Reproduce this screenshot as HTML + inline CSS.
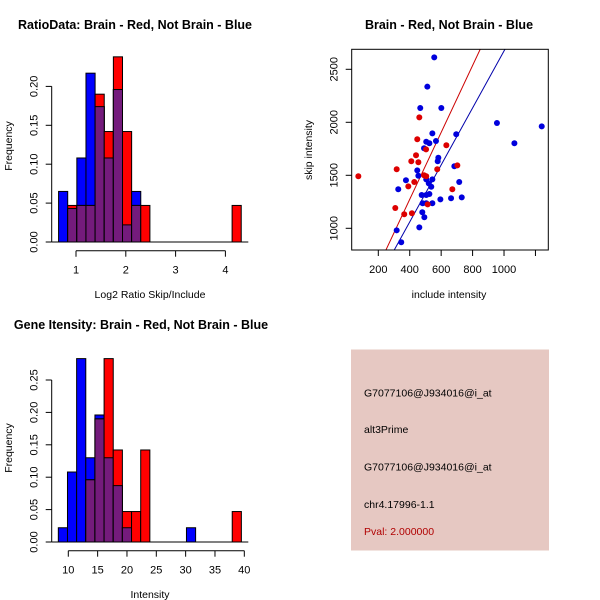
<!DOCTYPE html>
<html><head><meta charset="utf-8"><style>
html,body{margin:0;padding:0;background:#fff;}
svg{display:block;font-family:"Liberation Sans",sans-serif;}
</style></head><body>
<svg id="root" width="600" height="600" viewBox="0 0 600 600" xmlns="http://www.w3.org/2000/svg">
<rect x="0" y="0" width="600" height="600" fill="#fff"/>
<g id="p1">
<text x="135" y="29" text-anchor="middle" font-weight="bold" font-size="12.5">RatioData: Brain - Red, Not Brain - Blue</text>
<text x="150" y="298" text-anchor="middle" font-size="10.5">Log2 Ratio Skip/Include</text>
<text transform="translate(12,146) rotate(-90)" text-anchor="middle" font-size="10.5">Frequency</text>
</g>
<g id="p2">
<text x="449" y="29" text-anchor="middle" font-weight="bold" font-size="12.5">Brain - Red, Not Brain - Blue</text>
<text x="449" y="298" text-anchor="middle" font-size="10.5">include intensity</text>
<text transform="translate(312,150) rotate(-90)" text-anchor="middle" font-size="10.5">skip intensity</text>
</g>
<g id="p3">
<text x="141" y="329" text-anchor="middle" font-weight="bold" font-size="12.5">Gene Itensity: Brain - Red, Not Brain - Blue</text>
<text x="150" y="598" text-anchor="middle" font-size="10.5">Intensity</text>
<text transform="translate(12,448) rotate(-90)" text-anchor="middle" font-size="10.5">Frequency</text>
</g>
<g>
<rect x="351" y="349.5" width="198" height="201" fill="#e6c8c2"/>
<text x="364" y="396.5" font-size="10.5">G7077106@J934016@i_at</text>
<text x="364" y="433" font-size="10.5">alt3Prime</text>
<text x="364" y="470.5" font-size="10.5">G7077106@J934016@i_at</text>
<text x="364" y="508" font-size="10.5">chr4.17996-1.1</text>
<text x="364" y="535" font-size="10.5" fill="#b00000">Pval: 2.000000</text>
</g>
</svg>
<script>
// Panel 1 data
const ratioBinStart = 0.65;
const ratioBinWidth = 0.1834;
const ratioBlue = [0.065,0.043,0.108,0.217,0.174,0.108,0.196,0.022,0.065,0,0,0,0,0,0,0,0,0,0,0];
const ratioRed  = [0,0.047,0.047,0.047,0.19,0.142,0.238,0.142,0.047,0.047,0,0,0,0,0,0,0,0,0,0.047];
const ratioXTicks = [1,2,3,4];
const ratioYTicks = [0,0.05,0.10,0.15,0.20];
const ratioYLabels = ["0.00","0.05","0.10","0.15","0.20"];
// Panel 3 data
const geneBinStart = 8.3;
const geneBinWidth = 1.56;
const geneBlue = [0.022,0.108,0.283,0.13,0.196,0.13,0.087,0.022,0,0,0,0,0,0,0.022,0,0,0,0,0];
const geneRed  = [0,0,0,0.096,0.19,0.283,0.142,0.047,0.047,0.142,0,0,0,0,0,0,0,0,0,0.047];
const geneXTicks = [10,15,20,25,30,35,40];
const geneYTicks = [0,0.05,0.10,0.15,0.20,0.25];
const geneYLabels = ["0.00","0.05","0.10","0.15","0.20","0.25"];
// Panel 2 data
const blueInclude = [467,601,544,696,505,525,567,491,582,578,684,448,455,505,544,521,376,327,537,715,731,663,595,476,505,525,544,482,505,480,493,461,317,346,955,512,556,1066,1240];
const blueSkip    = [2135,2135,1896,1887,1817,1802,1824,1755,1666,1632,1585,1547,1496,1462,1462,1424,1453,1368,1392,1437,1292,1283,1273,1314,1314,1324,1236,1236,1236,1151,1104,1009,981,868,1993,2336,2613,1802,1962];
const redInclude = [73,461,448,633,504,440,410,455,317,575,703,491,505,429,391,671,308,365,414,514];
const redSkip    = [1491,2047,1840,1783,1745,1689,1632,1623,1557,1557,1594,1500,1491,1437,1396,1368,1191,1132,1142,1226];
const redFit = [11,3.156];
const blueFit = [-15,2.688];
const scatterXTicks = [200,400,600,800,1000,1200];
const scatterXLabels = ["200","400","600","800","1000",""];
const scatterYTicks = [1000,1500,2000,2500];

const NS="http://www.w3.org/2000/svg";
function mk(parent,tag,attrs){const e=document.createElementNS(NS,tag);for(const k in attrs)e.setAttribute(k,attrs[k]);parent.appendChild(e);return e;}

function drawHist(g,prefix,bs,bw,blue,red,xTicks,yTicks,yLabels,xScale,yScale,xAxisY,yAxisX,baseL,baseR){
  const y0=yScale(0);
  for(let i=0;i<blue.length;i++){
    const x1=xScale(bs+i*bw),x2=xScale(bs+(i+1)*bw);
    const b=blue[i],r=red[i];
    if(b>0){const e=mk(g,'rect',{x:x1,y:yScale(b),width:x2-x1,height:y0-yScale(b),fill:'#0000ff',stroke:'#000','stroke-width':1});
      
      }
    if(r>0){const e=mk(g,'rect',{x:x1,y:yScale(r),width:x2-x1,height:y0-yScale(r),fill:'#ff0000',stroke:'#000','stroke-width':1});
      
      }
    const m=Math.min(b,r);
    if(m>0){const e=mk(g,'rect',{x:x1,y:yScale(m),width:x2-x1,height:y0-yScale(m),fill:'#741b7c',stroke:'#000','stroke-width':1});
      
      }
  }
  const bl=mk(g,'line',{x1:baseL,x2:baseR,y1:y0,y2:y0,stroke:'#000','stroke-width':1});
  
  
  const xa=mk(g,'line',{x1:xScale(xTicks[0]),x2:xScale(xTicks[xTicks.length-1]),y1:xAxisY,y2:xAxisY,stroke:'#000'});
  
  
  xTicks.forEach(t=>{mk(g,'line',{x1:xScale(t),x2:xScale(t),y1:xAxisY,y2:xAxisY+6,stroke:'#000'});
    const tx=mk(g,'text',{x:xScale(t),y:xAxisY+23,'text-anchor':'middle','font-size':'11'});tx.textContent=t;
    
    });
  const ya=mk(g,'line',{x1:yAxisX,x2:yAxisX,y1:yScale(yTicks[0]),y2:yScale(yTicks[yTicks.length-1]),stroke:'#000'});
  
  
  yTicks.forEach((t,i)=>{mk(g,'line',{x1:yAxisX-6,x2:yAxisX,y1:yScale(t),y2:yScale(t),stroke:'#000'});
    const tx=mk(g,'text',{transform:'translate('+(yAxisX-14)+','+yScale(t)+') rotate(-90)','text-anchor':'middle','font-size':'11'});tx.textContent=yLabels[i];
    
    });
}
// panel 1
drawHist(document.getElementById('p1'),'ratio',ratioBinStart,ratioBinWidth,ratioBlue,ratioRed,ratioXTicks,ratioYTicks,ratioYLabels,
  v=>76+(v-1)*49.8, v=>242-v*778, 250.7, 51.7, 51.7, 248.3);
// panel 3
drawHist(document.getElementById('p3'),'gene',geneBinStart,geneBinWidth,geneBlue,geneRed,geneXTicks,geneYTicks,geneYLabels,
  v=>68.3+(v-10)*5.867, v=>542-v*648, 550.7, 51.7, 51.7, 248.3);
// panel 2
(function(){
  const g=document.getElementById('p2');
  const xS=v=>378.3+(v-200)*31.43/200, yS=v=>69.3+(2500-v)*53/500;
  const L=351.7,R=548.3,T=49.3,B=250;
  const cp=mk(g,'clipPath',{id:'sc'});mk(cp,'rect',{x:L,y:T,width:R-L,height:B-T});
  [[redFit,'#cc0000','red-fit-line'],[blueFit,'#0000aa','blue-fit-line']].forEach(([f,c,n])=>{
    const xa=0,xb=1400;
    const l=mk(g,'line',{x1:xS(xa),y1:yS(f[0]+f[1]*xa),x2:xS(xb),y2:yS(f[0]+f[1]*xb),stroke:c,'stroke-width':1,'clip-path':'url(#sc)'});
    
    
  });
  blueInclude.forEach((v,i)=>{const c=mk(g,'circle',{cx:xS(v),cy:yS(blueSkip[i]),r:3,fill:'#0000dd'});
    
    });
  redInclude.forEach((v,i)=>{const c=mk(g,'circle',{cx:xS(v),cy:yS(redSkip[i]),r:3,fill:'#dd0000'});
    
    });
  const box=mk(g,'rect',{x:L,y:T,width:R-L,height:B-T,fill:'none',stroke:'#000'});
  
  
  scatterXTicks.forEach((t,i)=>{mk(g,'line',{x1:xS(t),x2:xS(t),y1:B,y2:B+6,stroke:'#000'});
    const tx=mk(g,'text',{x:xS(t),y:B+23,'text-anchor':'middle','font-size':'11'});tx.textContent=scatterXLabels[i];
    
    });
  scatterYTicks.forEach(t=>{mk(g,'line',{x1:L-6,x2:L,y1:yS(t),y2:yS(t),stroke:'#000'});
    const tx=mk(g,'text',{transform:'translate('+(L-14)+','+yS(t)+') rotate(-90)','text-anchor':'middle','font-size':'11'});tx.textContent=t;
    
    });
})();
</script>
</body></html>
